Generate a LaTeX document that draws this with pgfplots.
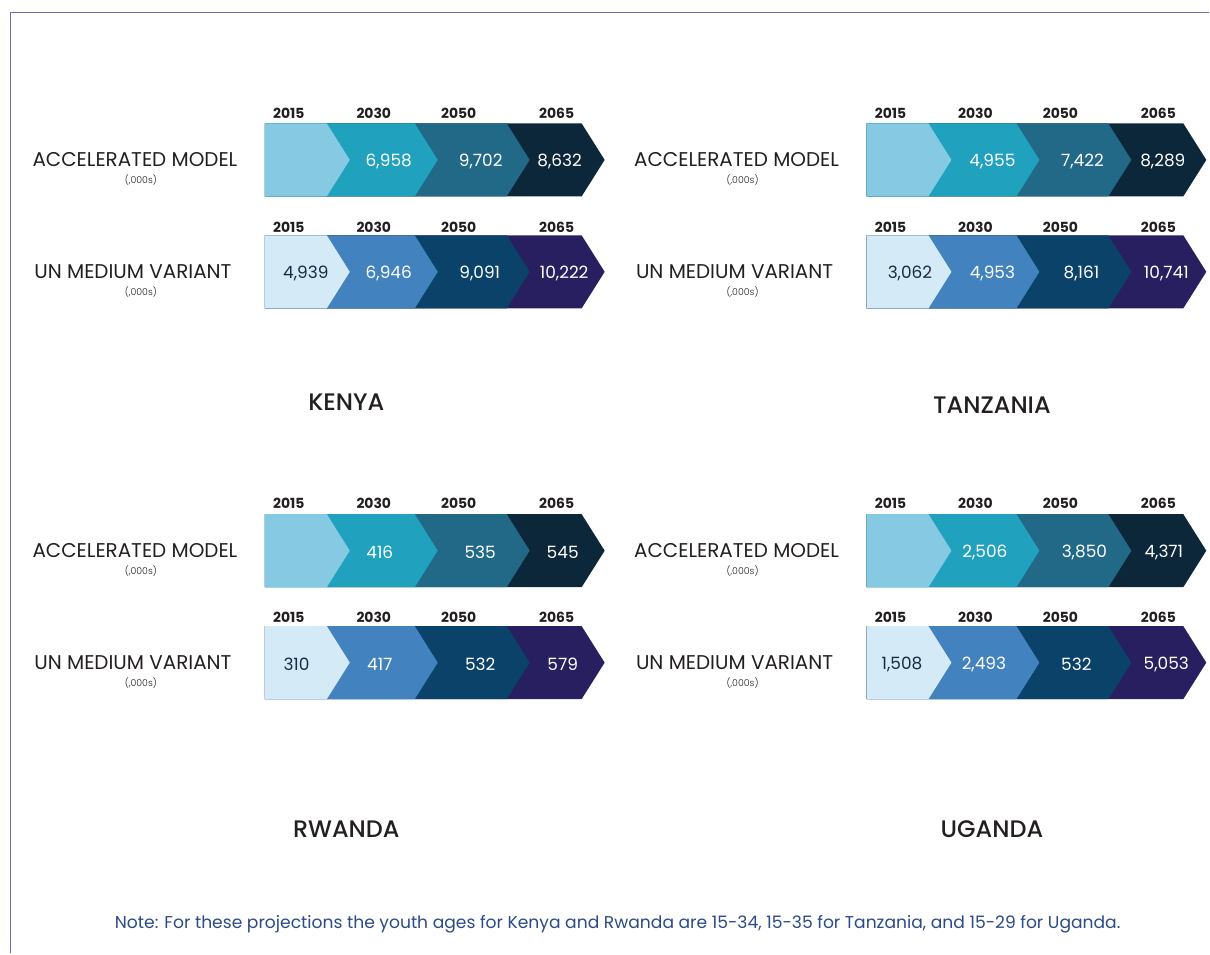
\documentclass[border=0pt]{standalone}
\usepackage{fontspec}
\setmainfont{Poppins}
\newfontfamily\lightfont{Poppins}[UprightFont=* Light]
\newfontfamily\medfont{Poppins}[UprightFont=* Medium]
\usepackage{pgfplots}
\pgfplotsset{compat=1.18}

\definecolor{accA}{HTML}{85C9E2}
\definecolor{accB}{HTML}{20A1BE}
\definecolor{accC}{HTML}{216987}
\definecolor{accD}{HTML}{0C273A}
\definecolor{unA}{HTML}{D5EAF7}
\definecolor{unB}{HTML}{4282BF}
\definecolor{unC}{HTML}{0B426A}
\definecolor{unD}{HTML}{271F5F}
\definecolor{frame}{HTML}{6B6DB5}
\definecolor{ink}{HTML}{231F20}
\definecolor{navy}{HTML}{1A2B45}
\definecolor{notecol}{HTML}{2B4A86}

\newcommand\valfont{\fontsize{17}{20}\selectfont}
\newcommand\yearfont{\bfseries\fontsize{14}{16}\selectfont}
\newcommand\labfont{\fontsize{20}{22}\selectfont}
\newcommand\unitfont{\lightfont\fontsize{9.5}{10}\selectfont}
\newcommand\titfont{\medfont\fontsize{24}{27}\selectfont}

\pgfplotsset{
  shift panel/.style 2 args={x filter/.expression={x+#1}, y filter/.expression={y+#2}},
  seg/.style={draw=none, fill=#1, forget plot},
  txt/.style 2 args={draw=none, mark=none, forget plot, nodes near coords,
    point meta=explicit symbolic,
    every node near coord/.append style={anchor=center, inner sep=0pt, text=#1, font=#2}},
}

% one panel of chevrons, Kenya frame shifted by (#1,#2)
\newcommand\chevrons[2]{%
  \addplot[seg=accD, shift panel={#1}{#2}] coordinates {(265,123.5) (582,123.5) (605,160) (582,196.5) (265,196.5)} --cycle;
  \addplot[seg=accC, shift panel={#1}{#2}] coordinates {(265,123.5) (507,123.5) (530,160) (507,196.5) (265,196.5)} --cycle;
  \addplot[seg=accB, shift panel={#1}{#2}] coordinates {(265,123.5) (415,123.5) (438,160) (415,196.5) (265,196.5)} --cycle;
  \addplot[seg=accA, shift panel={#1}{#2}] coordinates {(265,123.5) (327,123.5) (350,160) (327,196.5) (265,196.5)} --cycle;
  \addplot[seg=unD, shift panel={#1}{#2}] coordinates {(265,235.5) (582,235.5) (605,272) (582,308.5) (265,308.5)} --cycle;
  \addplot[seg=unC, shift panel={#1}{#2}] coordinates {(265,235.5) (507,235.5) (530,272) (507,308.5) (265,308.5)} --cycle;
  \addplot[seg=unB, shift panel={#1}{#2}] coordinates {(265,235.5) (415,235.5) (438,272) (415,308.5) (265,308.5)} --cycle;
  \addplot[seg=unA, shift panel={#1}{#2}] coordinates {(265,235.5) (327,235.5) (350,272) (327,308.5) (265,308.5)} --cycle;
  \addplot[txt={ink}{\yearfont}, shift panel={#1}{#2}] coordinates {
    (289,113) [2015] (374,113) [2030] (459,113) [2050] (557,113) [2065]
    (289,227) [2015] (374,227) [2030] (459,227) [2050] (557,227) [2065]};
  \node[text=ink, font=\labfont] at (axis cs:135+#1,159.5+#2) {ACCELERATED MODEL};
  \node[text=ink, font=\unitfont] at (axis cs:141+#1,180.5+#2) {(,000s)};
  \node[text=ink, font=\labfont] at (axis cs:133+#1,272+#2) {UN MEDIUM VARIANT};
  \node[text=ink, font=\unitfont] at (axis cs:141+#1,292.5+#2) {(,000s)};
}

\begin{document}
\begin{tikzpicture}
\begin{axis}[
  x=1bp, y=1bp, scale only axis,
  xmin=0, xmax=1210, ymin=0, ymax=954, y dir=reverse,
  axis lines=none, clip=false,
]
\path (axis cs:0,0) rectangle (axis cs:1210,954);
\draw[frame, line width=1.4bp] (axis cs:10.8,954) -- (axis cs:10.8,12.6) -- (axis cs:1210,12.6);

\chevrons{0}{0}
\chevrons{602}{0}
\chevrons{0}{391}
\chevrons{602}{391}

% Kenya
\addplot[txt={white}{\valfont}] coordinates {
  (389,161.5) [6,958] (481,161.5) [9,702] (560,161.5) [8,632]
  (389,273.5) [6,946] (480,273.5) [9,091] (564.5,273.5) [10,222]};
\addplot[txt={navy}{\valfont}] coordinates {(306,273.5) [4,939]};
% Tanzania
\addplot[txt={white}{\valfont}] coordinates {
  (993,161.5) [4,955] (1083,161.5) [7,422] (1163.5,161.5) [8,289]
  (993,273.5) [4,953] (1082,273.5) [8,161] (1167,273.5) [10,741]};
\addplot[txt={navy}{\valfont}] coordinates {(910.5,273.5) [3,062]};
% Rwanda
\addplot[txt={white}{\valfont}] coordinates {
  (380,552.5) [416] (480.5,552.5) [535] (563,552.5) [545]
  (380,664.5) [417] (480.5,664.5) [532] (563,664.5) [579]};
\addplot[txt={navy}{\valfont}] coordinates {(296.7,664.5) [310]};
% Uganda
\addplot[txt={white}{\valfont}] coordinates {
  (985.5,552.5) [2,506] (1085,552.5) [3,850] (1164.5,552.5) [4,371]
  (984.5,664.5) [2,493] (1077,664.5) [532] (1167,664.5) [5,053]};
\addplot[txt={navy}{\valfont}] coordinates {(902.5,664.5) [1,508]};

\node[text=ink, font=\titfont] at (axis cs:346.5,402) {KENYA};
\node[text=ink, font=\titfont] at (axis cs:992.5,405) {TANZANIA};
\node[text=ink, font=\titfont] at (axis cs:346.5,830) {RWANDA};
\node[text=ink, font=\titfont] at (axis cs:992.5,830) {UGANDA};

\node[text=notecol, font=\fontsize{17.2}{19}\selectfont] at (axis cs:618,925)
  {Note: For these projections the youth ages for Kenya and Rwanda are 15-34, 15-35 for Tanzania, and 15-29 for Uganda.};
\end{axis}
\end{tikzpicture}
\end{document}
